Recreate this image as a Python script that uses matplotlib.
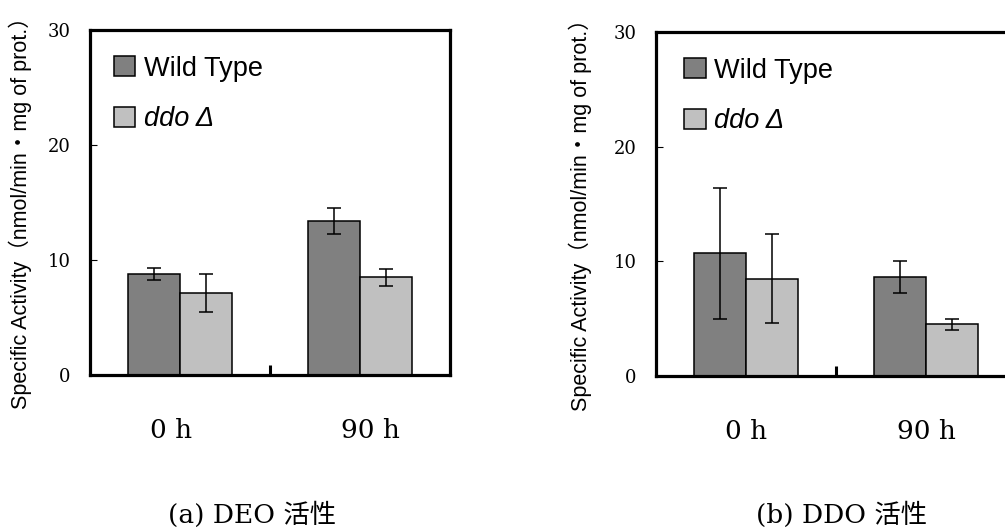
import numpy as np
import matplotlib
matplotlib.use("Agg")
import matplotlib.pyplot as plt

# 数据
categories = ["0 h", "90 h"]
series_names = ["Wild Type", "ddo Δ"]

deo_wt = [8.8, 13.4]
deo_wt_err = [0.5, 1.1]
deo_ddo = [7.1, 8.5]
deo_ddo_err = [1.65, 0.75]

ddo_wt = [10.7, 8.6]
ddo_wt_err = [5.7, 1.4]
ddo_ddo = [8.5, 4.5]
ddo_ddo_err = [3.9, 0.45]

captions = ["(a) DEO 活性", "(b) DDO 活性"]

COLORS = ["#808080", "#c0c0c0"]
SERIF = ["DejaVu Serif", "Noto Sans CJK JP"]
SANS = ["Liberation Sans", "Noto Sans CJK JP"]
YLABEL = "Specific Activity（nmol/min・mg of prot.）"

fig = plt.figure(figsize=(10.05, 5.32), dpi=100)
W, H = 1005, 532


def draw_panel(rect, wt, wt_err, ddo, ddo_err, label_x, leg_x, cat_pos):
    ax = fig.add_axes(rect)
    x = np.arange(len(categories)) + 0.5
    bw = 0.289
    err_kw = dict(ecolor="black", elinewidth=1.1, capsize=5.3, capthick=1.1)
    ax.bar(x - bw / 2, wt, bw, yerr=wt_err, color=COLORS[0], edgecolor="black",
           linewidth=1.1, label=series_names[0], error_kw=err_kw)
    ax.bar(x + bw / 2, ddo, bw, yerr=ddo_err, color=COLORS[1], edgecolor="black",
           linewidth=1.1, label=series_names[1], error_kw=err_kw)

    ax.set_xlim(0, 2)
    ax.set_ylim(0, 30)
    ax.set_yticks([0, 10, 20, 30])
    ax.tick_params(axis="y", direction="in", length=5, width=0.8, pad=14,
                   labelsize=13)
    for t in ax.get_yticklabels():
        t.set_fontfamily(SERIF)

    # 组间刻度 + 类别标签
    ax.set_xticks([1])
    ax.set_xticklabels([""])
    ax.set_xticks(cat_pos, minor=True)
    ax.set_xticklabels(categories, minor=True, fontsize=19, fontfamily=SERIF)
    ax.tick_params(axis="x", which="major", direction="in", length=7, width=2.2)
    ax.tick_params(axis="x", which="minor", length=0, pad=31)

    for sp in ax.spines.values():
        sp.set_linewidth(2.3)

    ax.set_ylabel(YLABEL, fontsize=15.5, family=SANS)
    ax.yaxis.set_label_coords(label_x, 0.484)

    leg = ax.legend(loc="upper left", bbox_to_anchor=(leg_x, 0.925),
                    frameon=False, fontsize=19.5, handlelength=0.8,
                    handleheight=0.76, handletextpad=0.3, labelspacing=0.9,
                    borderpad=0, borderaxespad=0)
    for t in leg.get_texts():
        t.set_fontfamily(SANS)
    leg.get_texts()[1].set_fontstyle("italic")
    return ax


draw_panel([90 / W, (H - 375) / H, 360 / W, 345 / H],
           deo_wt, deo_wt_err, deo_ddo, deo_ddo_err, -0.161, 0.066,
           [0.45, 1.56])
draw_panel([656 / W, (H - 376) / H, 360 / W, 344 / H],
           ddo_wt, ddo_wt_err, ddo_ddo, ddo_ddo_err, -0.178, 0.078,
           [0.5, 1.5])

fig.text(252 / W, (H - 515) / H, captions[0], fontsize=19, family=SERIF,
         ha="center", va="center")
fig.text(842 / W, (H - 515) / H, captions[1], fontsize=19, family=SERIF,
         ha="center", va="center")

fig.savefig("out.png", dpi=100)
